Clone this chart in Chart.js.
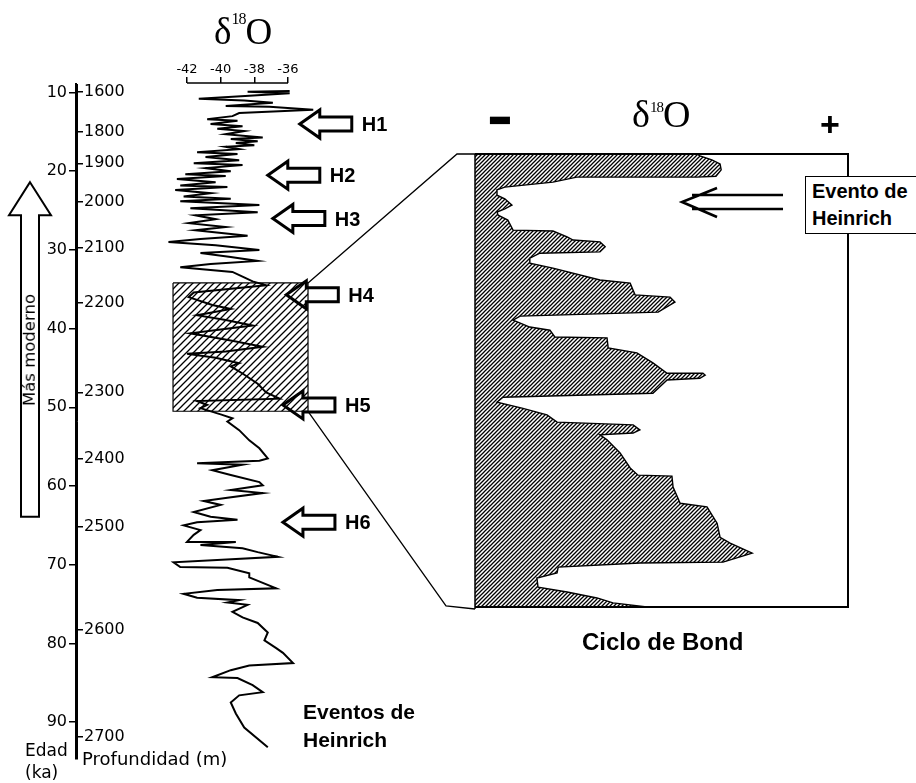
<!DOCTYPE html>
<html><head><meta charset="utf-8">
<script src="https://cdn.jsdelivr.net/npm/chart.js@4.4.1/dist/chart.umd.min.js"></script>
<style>
html,body{margin:0;padding:0;background:#fff;}
#wrap{position:relative;width:916px;height:783px;overflow:hidden;background:#fff;}
#wrap canvas{position:absolute;left:0;top:0;}
.t{position:absolute;white-space:nowrap;color:#000;}
</style></head><body>
<div id="wrap">
<canvas id="cAxes" width="916" height="783"></canvas>
<canvas id="cRec" width="916" height="783"></canvas>
<canvas id="cBond" width="916" height="783"></canvas>
</div>
<script>
// ---------- DATA ----------
const ageTicks = [10, 20, 30, 40, 50, 60, 70, 80, 90];               // Edad (ka)
const depthTicks = [1600, 1800, 1900, 2000, 2100, 2200, 2300, 2400, 2500, 2600, 2700]; // Profundidad (m)
const depthTickAges = [9.9, 15.0, 19.0, 23.9, 29.7, 36.7, 48.1, 56.5, 65.2, 78.3, 91.9];
const d18OTicks = [-42, -40, -38, -36];

const recordAge = [9.8,9.9,10.1,10.4,10.8,11.0,11.3,11.7,11.8,12.2,12.6,13.0,13.4,13.6,14.0,14.3,14.6,14.9,15.3,15.7,15.9,16.2,16.4,16.7,16.9,17.2,17.6,17.8,18.2,18.6,19.0,19.2,19.6,20.0,20.4,20.6,21.0,21.4,21.8,22.0,22.4,22.8,
23.2,23.5,23.8,24.3,24.7,25.2,25.6,26.1,26.6,27.1,27.5,28.2,28.6,29.0,29.4,30.0,30.4,30.9,31.4,31.8,32.2,32.8,33.4,34.0,34.5,
35.4,36.0,37.0,37.5,38.3,38.9,39.6,40.1,40.6,41.5,42.3,42.9,43.2,43.7,44.4,44.8,45.7,47.0,48.1,48.9,49.2,49.7,50.1,
50.9,51.4,51.8,52.9,54.2,55.2,56.5,56.8,57.1,57.3,58.0,58.6,59.5,59.9,60.5,60.9,61.5,61.9,62.4,63.3,63.9,64.3,64.6,65.0,65.6,66.2,67.1,67.1,67.5,67.9,68.4,69.0,69.7,70.3,70.4,71.1,
71.6,73.0,73.2,73.7,74.2,74.5,74.8,75.1,76.0,76.7,77.4,78.6,79.6,80.6,81.2,82.5,82.8,83.4,84.3,84.4,85.3,86.2,86.6,87.5,88.9,90.7,93.2];
const recordD18O = [-35.9,-38.4,-35.9,-38.3,-41.3,-38.6,-36.9,-39.7,-37.1,-34.5,-38.9,-39.3,-40.8,-39.0,-40.6,-38.7,-40.2,-38.6,-39.7,-37.5,-39.4,-37.8,-39.1,-38.0,-39.7,-38.9,-41.4,-39.0,-40.9,-38.9,-41.6,-38.7,-40.9,-39.4,-42.1,-39.7,-42.6,-40.3,-42.4,-39.6,-42.7,-40.6,
-42.2,-39.4,-42.4,-37.7,-41.8,-37.8,-41.5,-40.3,-41.9,-39.7,-41.5,-38.4,-41.2,-43.1,-40.3,-37.7,-41.2,-39.4,-37.8,-40.6,-42.4,-39.3,-38.7,-38.1,-37.3,
-41.6,-41.9,-40.5,-39.4,-41.4,-39.7,-38.1,-40.0,-41.8,-39.4,-37.5,-39.7,-42.0,-40.3,-38.9,-39.4,-38.7,-37.8,-37.3,-36.5,-41.4,-40.8,-41.2,
-40.0,-39.3,-39.6,-38.9,-38.3,-37.7,-37.2,-37.7,-41.4,-38.7,-40.5,-39.4,-37.7,-37.5,-39.4,-37.5,-39.6,-41.0,-40.0,-41.6,-40.6,-39.0,-41.4,-42.2,-41.2,-41.6,-42.0,-39.1,-41.2,-38.7,-37.8,-36.6,-42.8,-42.4,-39.6,-38.3,
-38.3,-36.7,-40.2,-42.2,-41.4,-38.9,-39.6,-38.4,-39.3,-38.7,-37.8,-37.2,-37.4,-36.7,-36.3,-35.7,-38.3,-39.4,-40.5,-39.0,-38.1,-37.5,-38.9,-39.4,-39.1,-38.6,-37.2];

const heinrichLabels = ['H1', 'H2', 'H3', 'H4', 'H5', 'H6'];
const heinrichAges = [14.0, 20.5, 26.0, 35.7, 49.7, 64.6];
const heinrichD18O = [-35.3, -37.2, -36.9, -36.1, -36.3, -36.3];

const bondWindowAge = [34.2, 50.5];
const bondWindowD18O = [-42.83, -34.81];

// Bond cycle detail (relative units: time 0-100 downward, delta18O 0-100 rightward)
const bondTime = [0,0,0.4,1.3,2.2,3.5,4.9,5.1,5.1,6.2,7.3,7.9,9.1,9.9,11.3,12.1,12.8,13.5,14.6,16.8,17.0,18.3,19.0,19.4,20.5,21.6,21.9,23.0,24.1,25.2,27.8,28.5,31.1,31.6,32.7,34.9,35.8,36.7,38.2,38.9,40.4,40.6,42.8,43.9,46.1,48.4,48.4,48.8,49.5,49.9,52.8,53.7,54.8,56.1,57.6,59.2,59.8,60.9,61.6,62.0,63.1,66.0,69.3,70.9,71.1,73.5,77.1,77.9,81.5,84.6,85.9,88.1,90.1,90.3,91.2,92.5,93.6,95.6,96.7,98.0,99.1,100,100];
const bondD18O = [0,59.5,60.3,63.5,65.7,66.0,64.6,59.5,27.3,20.9,8.0,5.9,5.9,8.0,9.9,8.0,5.9,6.2,8.8,10.2,20.9,24.7,26.3,33.5,34.9,33.5,17.4,14.7,14.7,20.9,33.5,41.6,42.9,52.3,53.6,49.1,12.1,10.2,14.7,20.1,21.4,35.4,35.7,43.4,47.7,51.5,61.1,61.7,60.3,51.5,47.7,7.5,5.9,12.6,19.3,22.0,42.4,44.2,42.4,33.5,35.4,38.9,41.6,43.7,52.8,53.1,55.0,62.2,64.9,65.7,68.4,74.3,66.5,44.2,22.3,22.0,16.6,16.9,24.7,32.7,37.0,46.1,0];
const bondHeinrichTime = 10.6;
const bondHeinrichD18O = 55.5;

const modernArrowAges = [63.9, 21.4];

// ---------- layout constants ----------
const AGE_MIN = 8.79, AGE_MAX = 94.56;
const D18O_MIN = -43.604, D18O_MAX = -33.504;
const SANS = "'Liberation Sans', Arial, sans-serif";
const DJ = "'DejaVu Sans', sans-serif";
const SERIF = "'Liberation Serif', 'Times New Roman', serif";

function hatch(s, lw) {
  const c = document.createElement('canvas'); c.width = s; c.height = s;
  const g = c.getContext('2d');
  g.strokeStyle = '#000'; g.lineWidth = lw;
  g.beginPath();
  g.moveTo(0, s); g.lineTo(s, 0);
  g.moveTo(-1, 1); g.lineTo(1, -1);
  g.moveTo(s - 1, s + 1); g.lineTo(s + 1, s - 1);
  g.stroke();
  return g.createPattern(c, 'repeat');
}

const wrap = document.getElementById('wrap');
function addText(txt, x, baseY, family, size, weight, align) {
  const d = document.createElement('div');
  d.className = 't';
  d.style.fontFamily = family; d.style.fontSize = size + 'px'; d.style.fontWeight = weight;
  d.style.lineHeight = size + 'px';
  d.textContent = txt;
  d.style.left = x + 'px';
  d.style.top = (baseY - 0.846 * size) + 'px';
  if (align === 'center') d.style.transform = 'translateX(-50%)';
  if (align === 'right') d.style.transform = 'translateX(-100%)';
  wrap.appendChild(d);
  return d;
}

// ---------- Chart A: age / depth axes ----------
const modernArrowPlugin = {
  id: 'modernArrow',
  afterDraw(chart) {
    const ctx = chart.ctx, y = chart.scales.yAge;
    const cx = chart.chartArea.left - 46;
    const yb = y.getPixelForValue(modernArrowAges[0]);
    const yt = y.getPixelForValue(modernArrowAges[1]);
    ctx.save();
    ctx.strokeStyle = '#000'; ctx.lineWidth = 2;
    ctx.beginPath();
    ctx.moveTo(cx, yt);
    ctx.lineTo(cx + 21, yt + 33);
    ctx.lineTo(cx + 9, yt + 33);
    ctx.lineTo(cx + 9, yb);
    ctx.lineTo(cx - 9, yb);
    ctx.lineTo(cx - 9, yt + 33);
    ctx.lineTo(cx - 21, yt + 33);
    ctx.closePath();
    ctx.stroke();
    ctx.restore();
  }
};

const axesChart = new Chart(document.getElementById('cAxes'), {
  type: 'line',
  data: { datasets: [{ data: [], yAxisID: 'yAge' }] },
  options: {
    responsive: false, animation: false, devicePixelRatio: 1,
    layout: { padding: { left: 36, right: 779, top: 84, bottom: 24 } },
    plugins: { legend: { display: false }, tooltip: { enabled: false } },
    scales: {
      x: { type: 'linear', display: false, min: 0, max: 1 },
      yAge: {
        type: 'linear', position: 'left', reverse: true, min: AGE_MIN + 0.13, max: AGE_MAX + 0.13,
        afterBuildTicks: s => { s.ticks = ageTicks.map(v => ({ value: v })); },
        afterFit: s => { s.width = 40; },
        ticks: { autoSkip: false, padding: 2, color: '#000', font: { family: DJ, size: 16 }, callback: v => String(v) },
        grid: { drawOnChartArea: false, drawTicks: true, tickLength: 7, color: '#000', lineWidth: 1.5 },
        border: { display: true, color: '#000', width: 2 }
      },
      yDepth: {
        type: 'linear', position: 'right', reverse: true, min: AGE_MIN + 0.13, max: AGE_MAX + 0.13,
        afterBuildTicks: s => { s.ticks = depthTickAges.map(v => ({ value: v })); },
        afterFit: s => { s.width = 60; },
        ticks: { autoSkip: false, padding: 1, color: '#000', font: { family: DJ, size: 16 }, callback: (v, i) => String(depthTicks[i]) },
        grid: { drawOnChartArea: false, drawTicks: true, tickLength: 6, color: '#000', lineWidth: 1.5 },
        border: { display: true, color: '#000', width: 1 }
      }
    }
  },
  plugins: [modernArrowPlugin]
});

// ---------- Chart B: delta18O record ----------
const recPlugin = {
  id: 'recExtras',
  afterDraw(chart) {
    const ctx = chart.ctx, x = chart.scales.x, y = chart.scales.y;
    ctx.save();
    // bracket axis line between end ticks
    ctx.strokeStyle = '#000'; ctx.lineWidth = 1.6;
    ctx.beginPath();
    ctx.moveTo(x.getPixelForValue(d18OTicks[0]), chart.chartArea.top);
    ctx.lineTo(x.getPixelForValue(d18OTicks[d18OTicks.length - 1]), chart.chartArea.top);
    ctx.stroke();
    // hollow Heinrich arrows
    ctx.lineWidth = 3; ctx.lineJoin = 'miter';
    heinrichAges.forEach((a, i) => {
      const tx = x.getPixelForValue(heinrichD18O[i]), ty = y.getPixelForValue(a);
      ctx.beginPath();
      ctx.moveTo(tx, ty);
      ctx.lineTo(tx + 20, ty - 14);
      ctx.lineTo(tx + 20, ty - 7);
      ctx.lineTo(tx + 52, ty - 7);
      ctx.lineTo(tx + 52, ty + 7);
      ctx.lineTo(tx + 20, ty + 7);
      ctx.lineTo(tx + 20, ty + 14);
      ctx.closePath();
      ctx.stroke();
    });
    ctx.restore();
  }
};

const recChart = new Chart(document.getElementById('cRec'), {
  type: 'line',
  data: {
    datasets: [
      {
        data: recordAge.map((a, i) => ({ x: recordD18O[i], y: a })),
        borderColor: '#000', borderWidth: 2, pointRadius: 0, tension: 0, fill: false, clip: false
      },
      {
        data: [
          { x: bondWindowD18O[0], y: bondWindowAge[0] }, { x: bondWindowD18O[1], y: bondWindowAge[0] },
          { x: bondWindowD18O[1], y: bondWindowAge[1] }, { x: bondWindowD18O[0], y: bondWindowAge[1] },
          { x: bondWindowD18O[0], y: bondWindowAge[0] }
        ],
        borderColor: '#000', borderWidth: 1.2, pointRadius: 0, tension: 0,
        fill: 'shape', backgroundColor: hatch(7, 1.3), clip: false
      }
    ]
  },
  options: {
    responsive: false, animation: false, devicePixelRatio: 1,
    layout: { padding: { left: 160, right: 586, top: 53, bottom: 25 } },
    plugins: { legend: { display: false }, tooltip: { enabled: false } },
    scales: {
      x: {
        type: 'linear', position: 'top', min: D18O_MIN, max: D18O_MAX,
        afterBuildTicks: s => { s.ticks = d18OTicks.map(v => ({ value: v })); },
        afterFit: s => { s.height = 30; },
        ticks: { autoSkip: false, padding: 0, color: '#000', font: { family: DJ, size: 13 }, callback: v => String(v) },
        grid: { drawOnChartArea: false, drawTicks: true, tickLength: 6, color: '#000', lineWidth: 1.5 },
        border: { display: false }
      },
      y: { type: 'linear', display: false, reverse: true, min: AGE_MIN, max: AGE_MAX }
    }
  },
  plugins: [recPlugin]
});

// ---------- Chart C: Bond cycle ----------
const bondPlugin = {
  id: 'bondExtras',
  afterDraw(chart) {
    const ctx = chart.ctx, a = chart.chartArea, x = chart.scales.x, y = chart.scales.y;
    const rx = recChart.scales.x, ry = recChart.scales.y;
    ctx.save();
    ctx.strokeStyle = '#000';
    // frame
    ctx.lineWidth = 2;
    ctx.beginPath();
    ctx.moveTo(a.left, a.top); ctx.lineTo(a.right, a.top); ctx.lineTo(a.right, a.bottom); ctx.lineTo(a.left, a.bottom);
    ctx.stroke();
    ctx.lineWidth = 1.5;
    ctx.beginPath(); ctx.moveTo(a.left, a.top); ctx.lineTo(a.left, a.bottom + 2); ctx.stroke();
    // connectors from the window on the record
    ctx.lineWidth = 1.3;
    ctx.beginPath();
    ctx.moveTo(rx.getPixelForValue(bondWindowD18O[1]), ry.getPixelForValue(bondWindowAge[0]));
    ctx.lineTo(a.left - 18, a.top);
    ctx.lineTo(a.left, a.top);
    ctx.moveTo(rx.getPixelForValue(bondWindowD18O[1]), ry.getPixelForValue(bondWindowAge[1]));
    ctx.lineTo(a.left - 29, a.bottom - 1);
    ctx.lineTo(a.left, a.bottom + 2);
    ctx.stroke();
    // double arrow pointing to the Heinrich event
    const tx = x.getPixelForValue(bondHeinrichD18O), ty = y.getPixelForValue(bondHeinrichTime);
    ctx.lineWidth = 2.6;
    ctx.beginPath();
    ctx.moveTo(tx + 10, ty - 7); ctx.lineTo(tx + 101, ty - 7);
    ctx.moveTo(tx + 10, ty + 7); ctx.lineTo(tx + 101, ty + 7);
    ctx.moveTo(tx + 35, ty - 14); ctx.lineTo(tx, ty); ctx.lineTo(tx + 35, ty + 15);
    ctx.stroke();
    ctx.restore();
  }
};

const bondChart = new Chart(document.getElementById('cBond'), {
  type: 'line',
  data: {
    datasets: [{
      data: bondTime.map((t, i) => ({ x: bondD18O[i], y: t })),
      borderColor: '#000', borderWidth: 1.4, pointRadius: 0, tension: 0,
      fill: 'shape', backgroundColor: hatch(4, 1.3), clip: false
    }]
  },
  options: {
    responsive: false, animation: false, devicePixelRatio: 1,
    layout: { padding: { left: 475, right: 68, top: 154, bottom: 176 } },
    plugins: { legend: { display: false }, tooltip: { enabled: false } },
    scales: {
      x: { type: 'linear', display: false, min: 0, max: 100 },
      y: { type: 'linear', display: false, reverse: true, min: 0, max: 100 }
    }
  },
  plugins: [bondPlugin]
});

// ---------- texts ----------
function deltaTitle(x, baseY, size, supSize, raise) {
  const d = document.createElement('div');
  d.className = 't';
  d.style.fontFamily = SERIF; d.style.fontSize = size + 'px'; d.style.lineHeight = size + 'px';
  d.style.left = x + 'px'; d.style.top = (baseY - 0.838 * size) + 'px';
  d.innerHTML = 'δ<span style="font-size:' + supSize + 'px;position:relative;top:-' + raise + 'px;letter-spacing:-1px">18</span>O';
  wrap.appendChild(d);
}
deltaTitle(214, 44, 37, 16, 20);
deltaTitle(632, 127, 38, 15, 15);

const minus = addText('−', 500, 138, SANS, 40, 'bold', 'center');
minus.style.transform = 'translateX(-50%) scaleY(1.7)';
minus.style.transformOrigin = '50% 66%';
addText('+', 830, 136, SANS, 34, 'bold', 'center');

// Evento de Heinrich box
const box = document.createElement('div');
box.style.cssText = 'position:absolute;left:805px;top:176px;width:140px;height:56px;border:1.5px solid #000;background:#fff;';
wrap.appendChild(box);
addText('Evento de', 812, 198, SANS, 20, 'bold');
addText('Heinrich', 812, 225, SANS, 20, 'bold');

addText('Ciclo de Bond', 582, 650, SANS, 24, 'bold');
addText('Eventos de', 303, 719, SANS, 21, 'bold');
addText('Heinrich', 303, 747, SANS, 21, 'bold');

addText('Edad', 25, 756, DJ, 17, 'normal');
addText('(ka)', 25, 778, DJ, 17, 'normal');
addText('Profundidad (m)', 82, 765, DJ, 18, 'normal');

const mm = document.createElement('div');
mm.className = 't';
mm.style.cssText += 'font-family:' + DJ + ';font-size:16.5px;line-height:16.5px;left:30px;top:350px;transform:translate(-50%,-50%) rotate(-90deg);';
mm.textContent = 'Más moderno';
wrap.appendChild(mm);

// Heinrich labels positioned from the record scales
heinrichLabels.forEach((lab, i) => {
  const tx = recChart.scales.x.getPixelForValue(heinrichD18O[i]);
  const ty = recChart.scales.y.getPixelForValue(heinrichAges[i]);
  addText(lab, tx + 62, ty + 7, SANS, 20, 'bold');
});
</script>
</body></html>
